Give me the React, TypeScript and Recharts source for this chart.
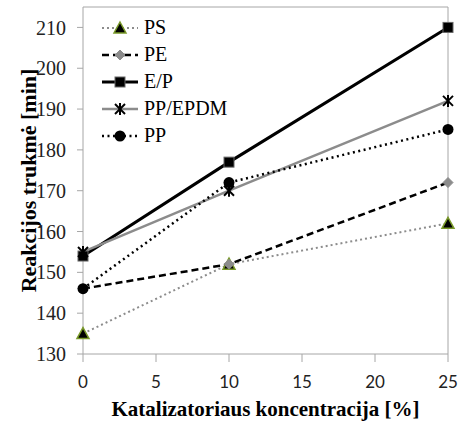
import { CartesianGrid, Legend, Line, LineChart, ReferenceLine, XAxis, YAxis } from 'recharts';

const concentrations = [0, 10, 25];
const psValues = [135, 152, 162];
const peValues = [146, 152, 172];
const epValues = [154, 177, 210];
const ppEpdmValues = [155, 170, 192];
const ppValues = [146, 172, 185];
const xTicks = [0, 5, 10, 15, 20, 25];
const yTicks = [130, 140, 150, 160, 170, 180, 190, 200, 210];
const seriesNames = ['PS', 'PE', 'E/P', 'PP/EPDM', 'PP'];

const data = concentrations.map((c, i) => ({
  c,
  PS: psValues[i],
  PE: peValues[i],
  'E/P': epValues[i],
  'PP/EPDM': ppEpdmValues[i],
  PP: ppValues[i],
}));

const serif = "'Times New Roman', 'Liberation Serif', Tinos, 'DejaVu Serif', 'Noto Serif', serif";
const axisGray = '#a6a6a6';

type MarkerProps = { kind: string; cx: number; cy: number };

const Marker = ({ kind, cx, cy }: MarkerProps) => {
  if (kind === 'PS')
    return <polygon points={`${cx},${cy - 6} ${cx + 6},${cy + 5} ${cx - 6},${cy + 5}`} fill="#000" stroke="#7a9a2a" strokeWidth={1.5} />;
  if (kind === 'PE')
    return <polygon points={`${cx},${cy - 5} ${cx + 5},${cy} ${cx},${cy + 5} ${cx - 5},${cy}`} fill="#8c8c8c" stroke="#8c8c8c" />;
  if (kind === 'E/P')
    return <rect x={cx - 5} y={cy - 5} width={10} height={10} fill="#000" stroke="#666" strokeWidth={1} />;
  if (kind === 'PP/EPDM')
    return (
      <g stroke="#000" strokeWidth={2}>
        <line x1={cx - 5} y1={cy - 5} x2={cx + 5} y2={cy + 5} />
        <line x1={cx - 5} y1={cy + 5} x2={cx + 5} y2={cy - 5} />
        <line x1={cx} y1={cy - 6} x2={cx} y2={cy + 6} />
      </g>
    );
  return <circle cx={cx} cy={cy} r={5.5} fill="#000" />;
};

const lineStyle: Record<string, { stroke: string; width: number; dash?: string }> = {
  PS: { stroke: '#8c8c8c', width: 2, dash: '2 3' },
  PE: { stroke: '#000', width: 2.5, dash: '7 4' },
  'E/P': { stroke: '#000', width: 3 },
  'PP/EPDM': { stroke: '#8c8c8c', width: 2.5 },
  PP: { stroke: '#000', width: 2.5, dash: '2 3.5' },
};

const renderLegend = () => (
  <div>
    {seriesNames.map((name) => {
      const s = lineStyle[name];
      return (
        <div key={name} style={{ display: 'flex', alignItems: 'center', height: 27 }}>
          <svg width={42} height={16}>
            <line x1={2} y1={8} x2={38} y2={8} stroke={s.stroke} strokeWidth={s.width} strokeDasharray={s.dash} />
            <Marker kind={name} cx={20} cy={8} />
          </svg>
          <span style={{ fontFamily: serif, fontSize: 20, color: '#000', marginLeft: 2 }}>{name}</span>
        </div>
      );
    })}
  </div>
);

export default function App() {
  return (
    <div style={{ position: 'absolute', left: 0, top: 0, background: '#fff' }}>
      <LineChart width={461} height={424} data={data} margin={{ top: 7, right: 13, left: 0, bottom: 0 }}>
        <CartesianGrid horizontal={false} vertical={false} />
        <XAxis
          dataKey="c"
          type="number"
          domain={[0, 25]}
          ticks={xTicks}
          height={70}
          stroke={axisGray}
          tickSize={8}
          tickMargin={14}
          tick={{ fill: '#222', fontSize: 17, fontFamily: 'Lato, sans-serif' }}
          label={({ viewBox }: any) => (
            <text x={viewBox.x + viewBox.width / 2} y={416} textAnchor="middle" fontFamily={serif} fontWeight="bold" fontSize={21} fill="#000">
              Katalizatoriaus koncentracija [%]
            </text>
          )}
        />
        <YAxis
          type="number"
          domain={[130, 215]}
          ticks={yTicks}
          width={83}
          stroke={axisGray}
          tickSize={6}
          tickMargin={11}
          tick={{ fill: '#222', fontSize: 20, fontFamily: serif }}
          label={({ viewBox }: any) => (
            <text x={36} y={viewBox.y + viewBox.height / 2} transform={`rotate(-90, 36, ${viewBox.y + viewBox.height / 2})`} textAnchor="middle" fontFamily={serif} fontWeight="bold" fontSize={22} fill="#000">
              Reakcijos trukmė [min]
            </text>
          )}
        />
        <ReferenceLine y={215} stroke={axisGray} />
        <ReferenceLine x={25} stroke={axisGray} />
        {seriesNames.map((name) => {
          const s = lineStyle[name];
          return (
            <Line
              key={name}
              type="linear"
              dataKey={name}
              stroke={s.stroke}
              strokeWidth={s.width}
              strokeDasharray={s.dash}
              isAnimationActive={false}
              dot={(p: any) => <Marker key={`${name}-${p.index}`} kind={name} cx={p.cx} cy={p.cy} />}
              activeDot={false}
            />
          );
        })}
        <Legend
          layout="vertical"
          align="center"
          verticalAlign="middle"
          content={renderLegend}
          wrapperStyle={{ left: 100, top: 14, width: 160 }}
        />
      </LineChart>
    </div>
  );
}
